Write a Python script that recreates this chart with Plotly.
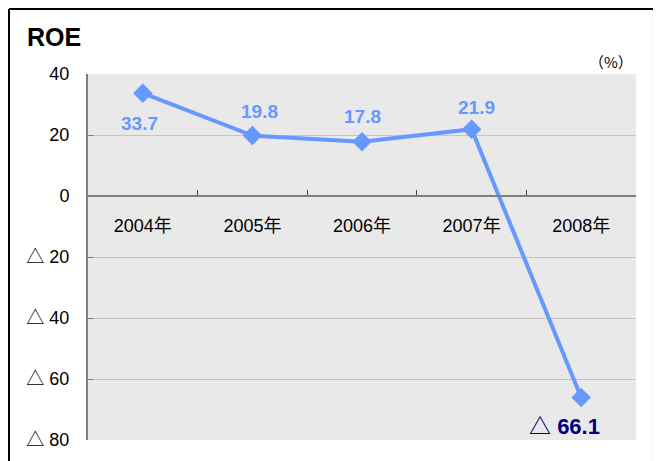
import plotly.graph_objects as go

years = ["2004年", "2005年", "2006年", "2007年", "2008年"]
roe = [33.7, 19.8, 17.8, 21.9, -66.1]

y_ticks = [40, 20, 0, -20, -40, -60, -80]
y_tick_text = ["40", "20", "0", "△ 20", "△ 40", "△ 60", "△ 80"]

# label offsets in px (x, y) so labels sit where the original has them
label_shift = [(-3, -30), (7, 24), (0, 25), (5, 22), (-17, -26)]

blue = "#6699FF"
navy = "#000080"
base_font = "Liberation Sans, Noto Sans CJK JP, sans-serif"
jp_font = "Noto Sans CJK JP, sans-serif"
tri_span = '<span style="font-family:Noto Sans CJK JP">△</span>'


def label(v):
    if v < 0:
        return "△ " + str(abs(v))
    return str(v)


fig = go.Figure()
fig.add_trace(go.Scatter(
    x=years, y=roe, mode="lines+markers",
    line=dict(color=blue, width=4),
    marker=dict(symbol="diamond", size=15, color=blue),
    hoverinfo="skip",
))

for year, v, (dx, dy) in zip(years, roe, label_shift):
    neg = v < 0
    fig.add_annotation(
        x=year, y=v, text="<b>" + label(v).replace("△", tri_span) + "</b>",
        showarrow=False, xshift=dx, yshift=dy,
        font=dict(family=base_font, size=22 if neg else 19,
                  color=navy if neg else blue),
    )

fig.add_annotation(x=-0.115, y=1.1, xref="paper", yref="paper",
                   text="<b>ROE</b>", showarrow=False, xanchor="left", yanchor="middle",
                   font=dict(family=base_font, size=25, color="black"))
fig.add_annotation(x=0.998, y=1.033, xref="paper", yref="paper",
                   text="（%）", showarrow=False, xanchor="right", yanchor="middle",
                   font=dict(family=jp_font, size=15, color="black"))

# outer frame
frame = dict(color="black", width=2)
for x0, y0, x1, y1 in [(-0.1442, 1.1776, 1.0328, 1.1776),
                       (-0.1442, -0.2, -0.1442, 1.1776),
                       (1.0328, -0.2, 1.0328, 1.1776)]:
    fig.add_shape(type="line", xref="paper", yref="paper",
                  x0=x0, y0=y0, x1=x1, y1=y1, line=frame)

# page body adds ~8px offset, margins compensate for it
fig.update_layout(
    width=661, height=461,
    margin=dict(l=80, r=33, t=66, b=29),
    paper_bgcolor="white", plot_bgcolor="#E9E9E9",
    showlegend=False,
    font=dict(family=base_font, color="black"),
)
fig.update_xaxes(
    type="category", range=[-0.5, 4.5],
    anchor="free", position=2 / 3,
    showline=True, linecolor="#7F7F7F", linewidth=2,
    ticks="inside", tickson="boundaries", ticklen=5, tickcolor="#444", tickwidth=1,
    showgrid=False, ticklabelstandoff=13,
    tickfont=dict(family=base_font, size=18, color="black"),
)
fig.update_yaxes(
    range=[-80, 40], tickvals=y_ticks,
    ticktext=[t.replace("△", tri_span) for t in y_tick_text],
    showline=True, linecolor="#7F7F7F", linewidth=2,
    ticks="inside", ticklen=6, tickcolor="#7F7F7F",
    showgrid=True, gridcolor="#C4C4C4", gridwidth=1,
    zeroline=False, ticklabelstandoff=13,
    tickfont=dict(family=base_font, size=18, color="black"),
)

fig.write_html("out.html")
